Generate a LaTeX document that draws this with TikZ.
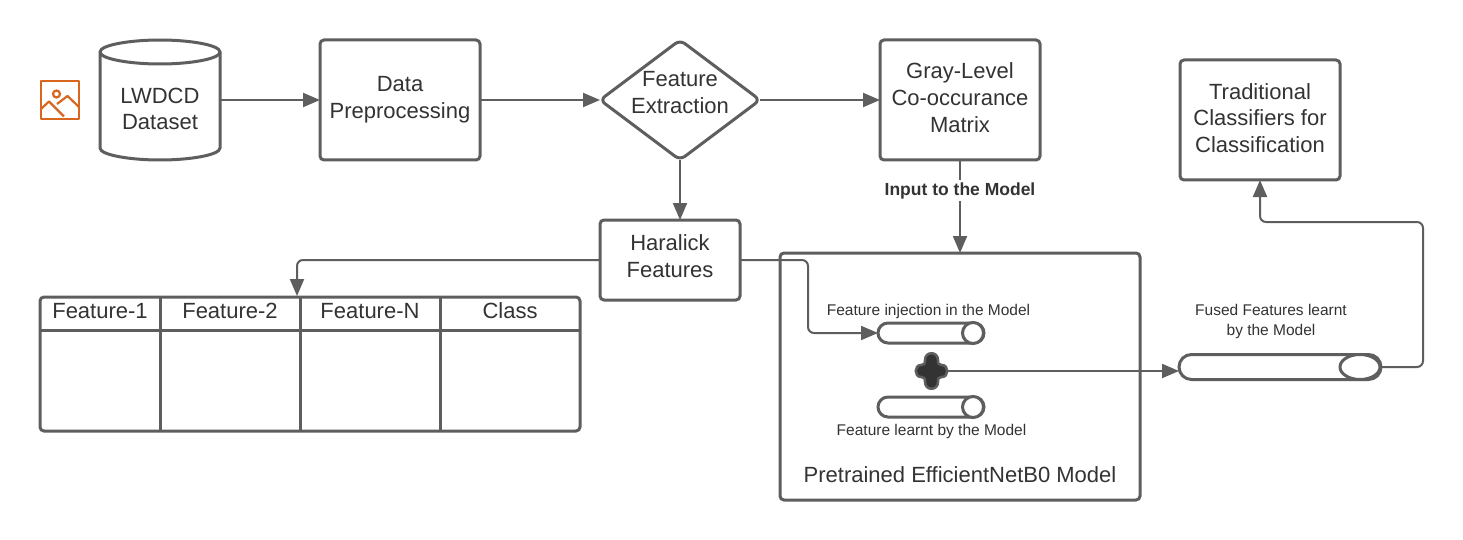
\documentclass[tikz,border=0pt]{standalone}
\usepackage{fontspec}
\setmainfont{Liberation Sans}
\usetikzlibrary{arrows.meta,shapes.geometric,shapes.misc}
\definecolor{ln}{HTML}{5E5E5E}
\definecolor{tx}{HTML}{333333}
\definecolor{ic}{HTML}{D9661F}
\tikzset{
  base/.style={outer sep=0pt,inner sep=0pt,align=center,text=tx,font=\fontsize{22}{26.7}\selectfont},
  box/.style={base,draw=ln,line width=3pt,fill=white,rounded corners=4pt},
  small/.style={base,font=\fontsize{15.5}{20}\selectfont},
  link/.style={draw=ln,line width=2pt,rounded corners=6pt,-{Triangle[length=17pt,width=14pt]}},
  pill/.style={base,draw=ln,line width=3pt,fill=white,rounded rectangle},
  grid/.style={draw=ln,line width=3pt}
}
\begin{document}
\begin{tikzpicture}[x=1pt,y=-1pt]
\useasboundingbox[fill=white] (0,0) rectangle (1463,540);
% image icon
\begin{scope}[draw=ic,line width=2.2pt,line join=round]
\draw (41,81) rectangle (79,119);
\draw (56.5,94) circle (3.5);
\draw (41,109) -- (49,101.5) -- (64,116.5);
\draw (57,104) -- (67.5,96) -- (79,107);
\end{scope}
% database
\node[base,minimum width=120pt,minimum height=120pt] (db) at (160,100) {};
\draw[ln,line width=3pt,fill=white,rounded corners=0pt]
  (100,52) -- (100,148) .. controls (100,155) and (130,160) .. (160,160)
  .. controls (190,160) and (220,155) .. (220,148) -- (220,52)
  .. controls (220,45) and (190,40) .. (160,40) .. controls (130,40) and (100,45) .. (100,52) -- cycle;
\draw[ln,line width=3pt]
  (100,52) .. controls (100,59) and (130,64) .. (160,64) .. controls (190,64) and (220,59) .. (220,52);
\node[base] (dbtext) at (160,109) {LWDCD\\Dataset};
% main boxes
\node[box,minimum width=160pt,minimum height=120pt] (prep) at (400,100) {};
\node[base] (preptext) at (400,99.5) {Data\\Preprocessing};
\node[base,draw=ln,line width=3pt,fill=white,diamond,aspect=1.333,rounded corners=6pt,minimum width=160pt,minimum height=120pt] (fe) at (680,100) {};
\node[base] (fetext) at (680,92.5) {Feature\\Extraction};
\node[box,minimum width=160pt,minimum height=120pt] (glcm) at (960,100) {};
\node[base] (glcmtext) at (960,97.5) {Gray-Level\\Co-occurance\\Matrix};
\node[box,minimum width=160pt,minimum height=120pt] (trad) at (1260,120) {};
\node[base] (tradtext) at (1260,118) {Traditional\\Classifiers for\\Classification};
\node[box,minimum width=140pt,minimum height=80pt] (har) at (670,260) {};
\node[base] (hartext) at (670,256) {Haralick\\Features};
\node[box,minimum width=360pt,minimum height=247pt] (model) at (960,376.5) {};
\node[base] (mtext) at (960,474.5) {Pretrained EfficientNetB0 Model};
% table
\node[box,minimum width=540pt,minimum height=134pt] (tbl) at (310,364) {};
\draw[grid] (tbl.west |- 0,330) -- (tbl.east |- 0,330);
\foreach \cx in {160,300,440} \draw[grid] (\cx,297) -- (\cx,431);
\node[base] (h1) at (100,311) {Feature-1};
\node[base] (h2) at (230,311) {Feature-2};
\node[base] (h3) at (370,311) {Feature-N};
\node[base] (h4) at (510,311) {Class};
\coordinate (tbltop) at (297,296);
% pills
\node[pill,minimum width=106pt,minimum height=20pt] (inj) at (931,333) {};
\draw[ln,line width=3pt,fill=white] (973,333) circle (10.5pt);
\node[pill,minimum width=106pt,minimum height=20pt] (lrn) at (931,407) {};
\draw[ln,line width=3pt,fill=white] (973,407) circle (10.5pt);
\node[pill,minimum width=202pt,minimum height=25pt] (fus) at (1280,367) {};
\draw[ln,line width=3pt,fill=white] (1360,367) ellipse (20pt and 12.5pt);
\node[small] (injt) at (928.5,311) {Feature injection in the Model};
\node[small] (lrnt) at (931.5,431) {Feature learnt by the Model};
\node[small] (fust) at (1271,321.5) {Fused Features learnt\\by the Model};
% plus
\coordinate (pl) at (931.5,371);
\node[base,minimum width=30pt,minimum height=30pt] (plus) at (pl) {};
\draw[ln,line width=2.5pt,fill=tx]
  (925,360) .. controls (925,351) and (938,351) .. (938,360)
  .. controls (938,364) and (939,365) .. (942,365)
  .. controls (949,365) and (949,377) .. (942,377)
  .. controls (939,377) and (938,378) .. (938,382)
  .. controls (938,391) and (925,391) .. (925,382)
  .. controls (925,378) and (924,377) .. (921,377)
  .. controls (914,377) and (914,365) .. (921,365)
  .. controls (924,365) and (925,364) .. (925,360) -- cycle;
% connectors
\draw[link] (db.east) -- (prep.west);
\draw[link] (prep.east) -- (fe.west);
\draw[link] (fe.east) -- (glcm.west);
\draw[link] (fe.south) -- (fe.south |- har.north);
\draw[link] (glcm.south) -- (glcm.south |- model.north);
\node[base,fill=white,inner sep=2pt,font=\bfseries\fontsize{17.5}{20}\selectfont] (inp) at (960,190.5) {Input to the Model};
\draw[link] (har.west) -| (tbltop);
\coordinate (bend) at (808,260);
\draw[link] (har.east) -- (bend) |- (inj.west);
\draw[link] (947,371) -- (fus.west |- 0,371);
\coordinate (up) at (1423,222);
\draw[link] (fus.east) -| (up) -| (trad.south);
\end{tikzpicture}
\end{document}
